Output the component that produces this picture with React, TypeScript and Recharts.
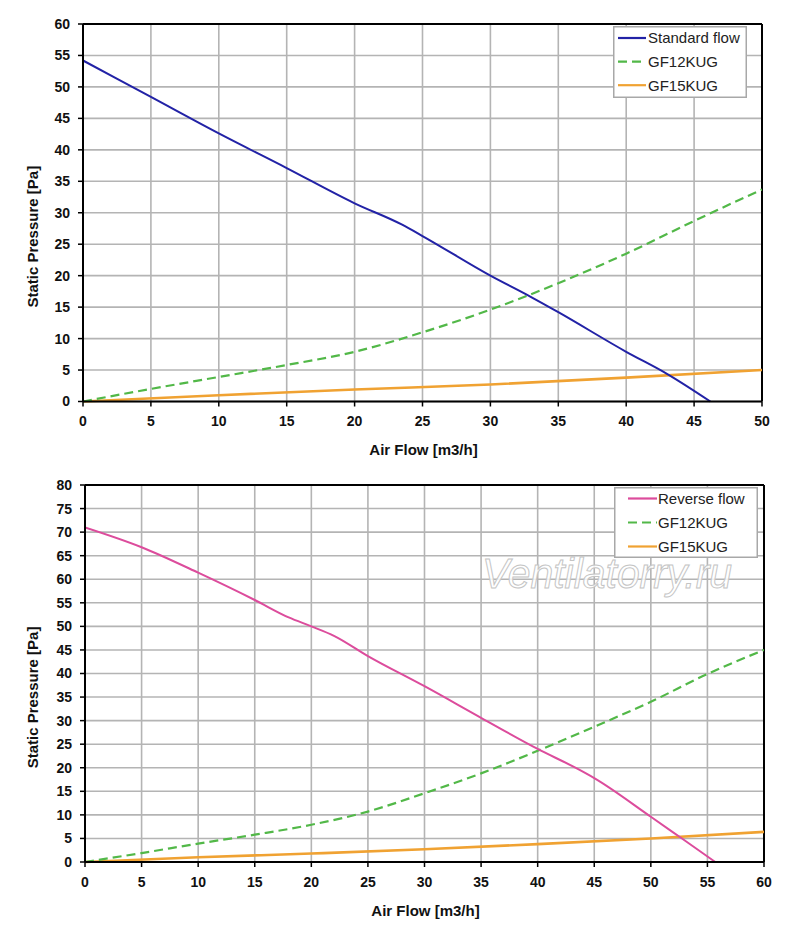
import React from 'react';
import { LineChart, Line, XAxis, YAxis, CartesianGrid, ReferenceLine, Legend, Label } from 'recharts';

const FONT = '"Liberation Sans", Arial, Helvetica, sans-serif';

// ---------- Top chart data ----------
const topXTicks = [0, 5, 10, 15, 20, 25, 30, 35, 40, 45, 50];
const topYTicks = [0, 5, 10, 15, 20, 25, 30, 35, 40, 45, 50, 55, 60];
const standardX = [0, 5, 10, 15, 20, 23.5, 25, 30, 33, 35, 40, 43, 46.2];
const standardY = [54.2, 48.4, 42.6, 37.1, 31.5, 28.1, 26.3, 20, 16.6, 14.2, 7.9, 4.4, 0];
const topGf12X = [0, 5, 10, 15, 20, 25, 30, 35, 40, 45, 50];
const topGf12Y = [0, 2, 3.9, 5.8, 7.9, 11, 14.6, 18.8, 23.5, 28.7, 33.7];
const topGf15X = [0, 10, 20, 30, 40, 50];
const topGf15Y = [0, 1, 1.9, 2.7, 3.8, 5];

// ---------- Bottom chart data ----------
const botXTicks = [0, 5, 10, 15, 20, 25, 30, 35, 40, 45, 50, 55, 60];
const botYTicks = [0, 5, 10, 15, 20, 25, 30, 35, 40, 45, 50, 55, 60, 65, 70, 75, 80];
const reverseX = [0, 5, 10, 15, 18, 20, 22, 25, 30, 35, 40, 43.5, 45, 50, 52.5, 55.7];
const reverseY = [71, 66.8, 61.4, 55.6, 51.9, 50, 48, 43.7, 37.3, 30.6, 24, 19.8, 17.8, 9.6, 5.4, 0];
const botGf12X = [0, 5, 10, 15, 20, 25, 30, 35, 40, 45, 50, 55, 60];
const botGf12Y = [0, 1.9, 3.9, 5.8, 7.9, 10.7, 14.6, 18.8, 23.6, 28.7, 34, 39.9, 45];
const botGf15X = [0, 10, 20, 30, 40, 50, 60];
const botGf15Y = [0, 1, 1.8, 2.7, 3.8, 5, 6.4];

const BLUE = '#2222a6';
const PINK = '#dc4c9c';
const GREEN = '#52b848';
const ORANGE = '#f0a232';

const topLegend = [
  { name: 'Standard flow', color: BLUE, dash: undefined as string | undefined },
  { name: 'GF12KUG', color: GREEN, dash: '9 5' },
  { name: 'GF15KUG', color: ORANGE, dash: undefined },
];
const botLegend = [
  { name: 'Reverse flow', color: PINK, dash: undefined as string | undefined },
  { name: 'GF12KUG', color: GREEN, dash: '9 5' },
  { name: 'GF15KUG', color: ORANGE, dash: undefined },
];

const toPoints = (xs: number[], ys: number[]) => xs.map((x, i) => ({ x, y: ys[i] }));

type LegendItem = { name: string; color: string; dash?: string };

function LegendBox(props: {
  items: LegendItem[];
  width: number;
  height: number;
  sampleLeft: number;
  sampleRight: number;
  textLeft: number;
  rowTop: number;
  rowGap: number;
}) {
  const { items, width, height, sampleLeft, sampleRight, textLeft, rowTop, rowGap } = props;
  return (
    <svg width={width} height={height} style={{ display: 'block' }}>
      <rect x={0.75} y={0.75} width={width - 1.5} height={height - 1.5} fill="#fff" stroke="#a8a8a8" strokeWidth={1.5} />
      {items.map((it, i) => {
        const cy = rowTop + i * rowGap;
        return (
          <g key={it.name}>
            <line x1={sampleLeft} x2={sampleRight} y1={cy} y2={cy} stroke={it.color} strokeWidth={2.2} strokeDasharray={it.dash} />
            <text x={textLeft} y={cy + 5.3} fontSize={15} fontFamily={FONT} fill="#222">
              {it.name}
            </text>
          </g>
        );
      })}
    </svg>
  );
}

const xTitle = (text: string) => (props: any) => {
  const vb = props.viewBox || { x: 0, y: 0, width: 0, height: 0 };
  return (
    <text
      x={vb.x + vb.width / 2 + 1}
      y={vb.y + 53.5}
      textAnchor="middle"
      fontSize={15}
      fontWeight="bold"
      fontFamily={FONT}
      fill="#111"
    >
      {text}
    </text>
  );
};

const yTitle = (text: string) => (props: any) => {
  const vb = props.viewBox || { x: 0, y: 0, width: 0, height: 0 };
  const cx = 38.4;
  const cy = vb.y + vb.height / 2 + 24;
  return (
    <text
      x={cx}
      y={cy}
      transform={`rotate(-90, ${cx}, ${cy})`}
      textAnchor="middle"
      fontSize={15}
      fontWeight="bold"
      fontFamily={FONT}
      fill="#111"
    >
      {text}
    </text>
  );
};

const tickStyle = { fontSize: 14, fontWeight: 'bold', fill: '#111', fontFamily: FONT } as any;

export default function App() {
  return (
    <div style={{ position: 'absolute', left: 0, top: 0, width: 800, height: 933, background: '#fff', overflow: 'hidden' }}>
      <div style={{ position: 'absolute', left: 0, top: 0 }}>
        <LineChart width={800} height={470} margin={{ top: 24, right: 38, bottom: 38.5, left: 0 }}>
          <CartesianGrid stroke="#b4b4b4" strokeWidth={1.6} />
          <XAxis
            type="number"
            dataKey="x"
            domain={[0, 50]}
            ticks={topXTicks}
            height={30}
            tickSize={5}
            tickMargin={10}
            tick={tickStyle}
            axisLine={{ stroke: '#000', strokeWidth: 2 }}
            tickLine={{ stroke: '#000', strokeWidth: 1.5 }}
            allowDataOverflow
          >
            <Label content={xTitle('Air Flow [m3/h]')} />
          </XAxis>
          <YAxis
            type="number"
            domain={[0, 60]}
            ticks={topYTicks}
            width={83}
            tickSize={5}
            tickMargin={8}
            tick={tickStyle}
            axisLine={{ stroke: '#000', strokeWidth: 2 }}
            tickLine={{ stroke: '#000', strokeWidth: 1.5 }}
            interval={0}
          >
            <Label content={yTitle('Static Pressure [Pa]')} />
          </YAxis>
          <ReferenceLine y={60} stroke="#000" strokeWidth={2} />
          <ReferenceLine x={50} stroke="#000" strokeWidth={2} />
          <Line data={toPoints(topGf15X, topGf15Y)} dataKey="y" name="GF15KUG" type="monotone" stroke={ORANGE} strokeWidth={2.6} dot={false} activeDot={false} isAnimationActive={false} />
          <Line data={toPoints(topGf12X, topGf12Y)} dataKey="y" name="GF12KUG" type="monotone" stroke={GREEN} strokeWidth={2.2} strokeDasharray="9 5" dot={false} activeDot={false} isAnimationActive={false} />
          <Line data={toPoints(standardX, standardY)} dataKey="y" name="Standard flow" type="monotone" stroke={BLUE} strokeWidth={2} dot={false} activeDot={false} isAnimationActive={false} />
          <Legend
            layout="vertical"
            align="center"
            verticalAlign="middle"
            wrapperStyle={{ left: 613, top: 26, width: 134, height: 72 }}
            content={() => (
              <LegendBox items={topLegend} width={134} height={72} sampleLeft={5} sampleRight={33} textLeft={35} rowTop={12} rowGap={23.6} />
            )}
          />
        </LineChart>
      </div>

      <div style={{ position: 'absolute', left: 0, top: 470 }}>
        <LineChart width={800} height={463} margin={{ top: 15, right: 36, bottom: 41, left: 0 }}>
          <CartesianGrid stroke="#b4b4b4" strokeWidth={1.6} />
          <XAxis
            type="number"
            dataKey="x"
            domain={[0, 60]}
            ticks={botXTicks}
            height={30}
            tickSize={5}
            tickMargin={10}
            tick={tickStyle}
            axisLine={{ stroke: '#000', strokeWidth: 2 }}
            tickLine={{ stroke: '#000', strokeWidth: 1.5 }}
            allowDataOverflow
          >
            <Label content={xTitle('Air Flow [m3/h]')} />
          </XAxis>
          <YAxis
            type="number"
            domain={[0, 80]}
            ticks={botYTicks}
            width={85}
            tickSize={5}
            tickMargin={8}
            tick={tickStyle}
            axisLine={{ stroke: '#000', strokeWidth: 2 }}
            tickLine={{ stroke: '#000', strokeWidth: 1.5 }}
            interval={0}
          >
            <Label content={yTitle('Static Pressure [Pa]')} />
          </YAxis>
          <ReferenceLine y={80} stroke="#000" strokeWidth={2} />
          <ReferenceLine x={60} stroke="#000" strokeWidth={2} />
          <Line data={toPoints(botGf15X, botGf15Y)} dataKey="y" name="GF15KUG" type="monotone" stroke={ORANGE} strokeWidth={2.6} dot={false} activeDot={false} isAnimationActive={false} />
          <Line data={toPoints(botGf12X, botGf12Y)} dataKey="y" name="GF12KUG" type="monotone" stroke={GREEN} strokeWidth={2.2} strokeDasharray="9 5" dot={false} activeDot={false} isAnimationActive={false} />
          <Line data={toPoints(reverseX, reverseY)} dataKey="y" name="Reverse flow" type="monotone" stroke={PINK} strokeWidth={2} dot={false} activeDot={false} isAnimationActive={false} />
          <Legend
            layout="vertical"
            align="center"
            verticalAlign="middle"
            wrapperStyle={{ left: 614, top: 17, width: 144, height: 71 }}
            content={() => (
              <LegendBox items={botLegend} width={144} height={71} sampleLeft={14} sampleRight={43} textLeft={44} rowTop={11.5} rowGap={24} />
            )}
          />
        </LineChart>
      </div>

      <svg width={800} height={933} style={{ position: 'absolute', left: 0, top: 0, pointerEvents: 'none' }}>
        <text
          x={482}
          y={588}
          fontSize={42}
          fontStyle="italic"
          fontFamily={FONT}
          textLength={250}
          lengthAdjust="spacingAndGlyphs"
          fill="#ffffff"
          fillOpacity={0.85}
          stroke="#c4c4c4"
          strokeWidth={1}
        >
          Ventilatorry.ru
        </text>
      </svg>
    </div>
  );
}
